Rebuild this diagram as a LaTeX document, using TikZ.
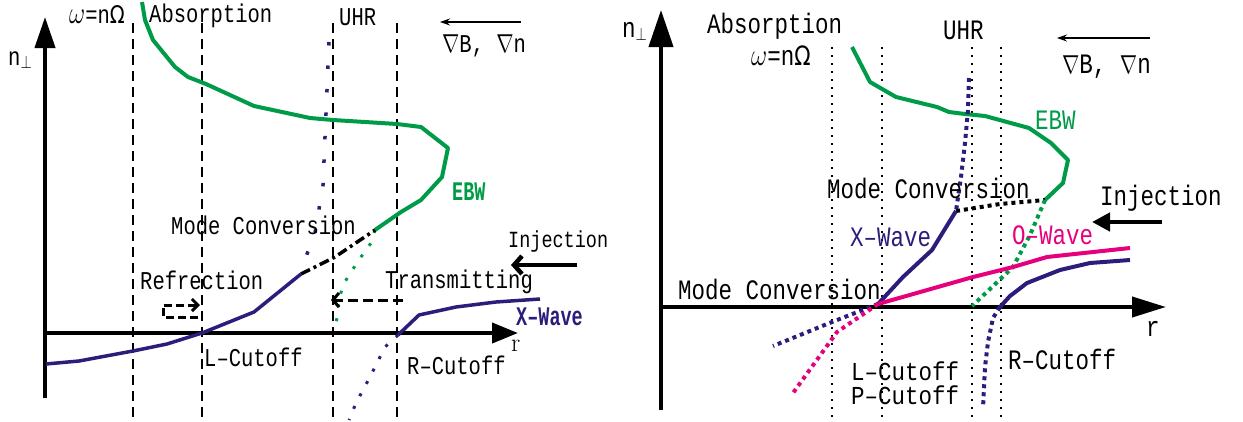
\documentclass[tikz,border=0pt]{standalone}
\usepackage{fontspec}
\usetikzlibrary{arrows.meta}
\newfontfamily\gf{Liberation Mono}
\newfontfamily\dvs{DejaVu Sans}
\definecolor{ebwgreen}{RGB}{0,155,72}
\definecolor{xpurple}{RGB}{46,28,122}
\definecolor{omag}{RGB}{230,0,126}
\newcommand\tall[1]{\scalebox{1}[1.25]{#1}}
\newcommand\ltall[1]{\scalebox{1}[1.15]{#1}}
\newcommand\btall[1]{\scalebox{1}[1.45]{#1}}
\newcommand\omg{\scalebox{1.2}{$\omega$}=n{\dvs\scalebox{0.95}{Ω}}}
\begin{document}
\begin{tikzpicture}[x=1pt,y=-1pt,
  lbl/.style={inner sep=0pt, anchor=base west, font=\gf\fontsize{20.5}{24}\selectfont},
  rlbl/.style={lbl, font=\gf\fontsize{22.5}{26}\selectfont},
  blbl/.style={lbl, font=\gf\bfseries\fontsize{18.5}{22}\selectfont},
  axisline/.style={line width=4pt},
  guide/.style={line width=1.5pt, dash pattern=on 10pt off 6pt},
  rguide/.style={line width=2pt, dash pattern=on 2pt off 6pt},
  ebwline/.style={ebwgreen, line width=4pt, line join=round},
  xline/.style={xpurple, line width=3.5pt, line join=round},
  oline/.style={omag, line width=4pt, line join=round},
  thickdots/.style={line width=4pt, dash pattern=on 4pt off 4pt},
  smalldots/.style={line width=3pt, dash pattern=on 3pt off 11pt},
  sparsedots/.style={line width=3.5pt, dash pattern=on 3.5pt off 20pt},
  thinarrow/.style={line width=1.3pt, -{Stealth[length=10pt,width=7pt]}},
]
\useasboundingbox (0,0) rectangle (1243,421);

% ================= LEFT PANEL =================
\foreach \gx in {133,202,333,397} \draw[guide] (\gx,23) -- (\gx,421);
\coordinate (yb1) at (45,398); \coordinate (yt1) at (45,17);
\coordinate (xb1) at (45,333); \coordinate (xt1) at (518,333);
\draw[axisline, -{Triangle[length=31pt,width=20pt]}] (yb1) -- (yt1);
\draw[axisline, -{Triangle[length=26pt,width=20pt]}] (xb1) -- (xt1);

% EBW
\coordinate (mcA) at (375,230);
\draw[ebwline] (142,2) -- (145,20) -- (153,40) -- (175,67) -- (188,77) -- (206,84)
  -- (254,106) -- (310,118) -- (333,120) -- (397,124) -- (421,127) -- (448,148)
  -- (442,177) -- (421,200) -- (401,212) -- (mcA);
\draw[ebwgreen, smalldots] (mcA) -- (371,243) -- (361,257) -- (351,272) -- (343,285)
  -- (339,300) -- (337,317) -- (335,332);
\coordinate (mcB) at (301,274);
\draw[xpurple, sparsedots] (329,42) -- (327,90) -- (325,137) -- (323,185) -- (319,209)
  -- (315,233) -- (307,254) -- (mcB);
\draw[line width=3.5pt, dash pattern=on 10pt off 4pt on 3pt off 4pt] (mcB) -- (335,257) -- (mcA);
\draw[xline] (46,364) -- (79,361) -- (133,351) -- (167,344) -- (202,333) -- (254,312) -- (mcB);
\coordinate (rc1) at (398,335);
\draw[xline] (rc1) -- (419,315) -- (456,307) -- (496,302) -- (540,299);
\draw[xpurple, smalldots] (rc1) -- (385,347) -- (371,375) -- (356,403) -- (349,420);

% refraction arrow
\draw[line width=3pt, dash pattern=on 8pt off 4pt, -{Straight Barb[length=6pt,width=12pt]}]
  (198,317) -- (163,317) -- (163,305) -- (200,305);
% transmitting arrow
\coordinate (trS) at (403,300); \coordinate (trE) at (331,300);
\draw[line width=3pt, dash pattern=on 10pt off 5pt, -{Straight Barb[length=6pt,width=14pt]}] (trS) -- (trE);
% injection arrow
\coordinate (inS1) at (577,265); \coordinate (inE1) at (511,265);
\draw[line width=4.5pt, -{Straight Barb[length=8pt,width=18pt]}] (inS1) -- (inE1);
% gradient arrow
\coordinate (gS1) at (521,22); \coordinate (gE1) at (440,22);
\draw[thinarrow] (gS1) -- (gE1);

% labels
\node[lbl] (omg1) at (69,23) {\tall{\omg}};
\node[lbl] (abs1) at (149,22) {\tall{Absorption}};
\node[lbl] (uhr1) at (339,25) {\tall{UHR}};
\node[lbl] (grad1) at (442,52) {\tall{$\nabla$B, $\nabla$n}};
\node[lbl] (nperp1) at (8,65) {\tall{n$_\perp$}};
\node[lbl] (mc1) at (171,234) {\tall{Mode Conversion}};
\node[lbl] (refr) at (140,289) {\tall{Refrection}};
\node[lbl] (trans) at (385,288) {\tall{Transmitting}};
\node[lbl, font=\gf\fontsize{18.5}{22}\selectfont] (inj1) at (508,247) {\tall{Injection}};
\node[lbl] (lcut1) at (204,366) {\tall{L–Cutoff}};
\node[lbl] (rcut1) at (407,374) {\tall{R–Cutoff}};
\node[blbl, text=ebwgreen] (ebw1) at (452,200) {\btall{EBW}};
\node[blbl, text=xpurple] (xw1) at (516,325) {\btall{X–Wave}};
\node[inner sep=0pt, anchor=base west, font=\rmfamily\fontsize{26}{30}\selectfont] (r1) at (511,351) {r};

% ================= RIGHT PANEL =================
\foreach \gx in {832,882,972,1001} \draw[rguide] (\gx,47) -- (\gx,421);
\coordinate (yb2) at (661,410); \coordinate (yt2) at (661,10);
\coordinate (xb2) at (661,307); \coordinate (xt2) at (1166,307);
\draw[axisline, -{Triangle[length=37pt,width=24pt]}] (yb2) -- (yt2);
\draw[axisline, -{Triangle[length=34pt,width=20pt]}] (xb2) -- (xt2);

\coordinate (mcC) at (1045,200);
\coordinate (mcD) at (956,211);
\coordinate (mcE) at (878,304);
\coordinate (rc2) at (1000,307);
\draw[ebwline] (852,47) -- (870,82) -- (896,97) -- (937,107) -- (949,112) -- (965,114)
  -- (985,116) -- (1007,122) -- (1029,128) -- (1051,143) -- (1068,160) -- (1063,183) -- (mcC);
\draw[xpurple, thickdots] (969,78) -- (968,110) -- (965,143) -- (961,177) -- (mcD);
\draw[thickdots] (mcD) -- (1000,204) -- (mcC);
\draw[ebwgreen, thickdots] (mcC) -- (1030,235) -- (1013,267) -- (990,289) -- (972,306);
\draw[xline, line width=4pt] (mcE) -- (903,277) -- (932,250) -- (mcD);
\draw[oline] (mcE) -- (973,277) -- (1013,267) -- (1047,257) -- (1130,248);
\draw[xline, line width=4pt] (rc2) -- (1010,296) -- (1027,283) -- (1060,270) -- (1090,263) -- (1130,260);
\draw[xpurple, thickdots] (mcE) -- (832,322) -- (773,346);
\draw[omag, thickdots] (mcE) -- (837,332) -- (793,393);
\draw[xpurple, thickdots] (rc2) -- (993,318) -- (988,342) -- (985,367) -- (983,408);

\coordinate (inS2) at (1162,222); \coordinate (inE2) at (1092,222);
\draw[line width=4.5pt, -{Triangle[length=18pt,width=18pt]}] (inS2) -- (inE2);
\coordinate (gS2) at (1150,38); \coordinate (gE2) at (1057,38);
\draw[thinarrow] (gS2) -- (gE2);

% labels
\node[rlbl] (nperp2) at (622,37) {\tall{n$_\perp$}};
\node[rlbl] (abs2) at (707,33) {\tall{Absorption}};
\node[rlbl] (omg2) at (751,65) {\tall{\omg}};
\node[rlbl] (uhr2) at (943,39) {\tall{UHR}};
\node[rlbl] (grad2) at (1062,73) {\tall{$\nabla$B, $\nabla$n}};
\node[rlbl, text=ebwgreen] (ebw2) at (1035,129) {\tall{EBW}};
\node[rlbl] (mc2) at (827,198) {\tall{Mode Conversion}};
\node[rlbl] (inj2) at (1100,205) {\tall{Injection}};
\node[rlbl, text=xpurple] (xw2) at (850,246) {\tall{X–Wave}};
\node[rlbl, text=omag] (ow2) at (1012,244) {\tall{O–Wave}};
\node[rlbl] (mc3) at (678,299) {\tall{Mode Conversion}};
\node[rlbl] (lcut2) at (851,380) {\ltall{L–Cutoff}};
\node[rlbl] (pcut2) at (851,404) {\ltall{P–Cutoff}};
\node[rlbl] (rcut2) at (1008,369) {\tall{R–Cutoff}};
\node[rlbl] (r2) at (1146,336) {\tall{r}};
\end{tikzpicture}
\end{document}
